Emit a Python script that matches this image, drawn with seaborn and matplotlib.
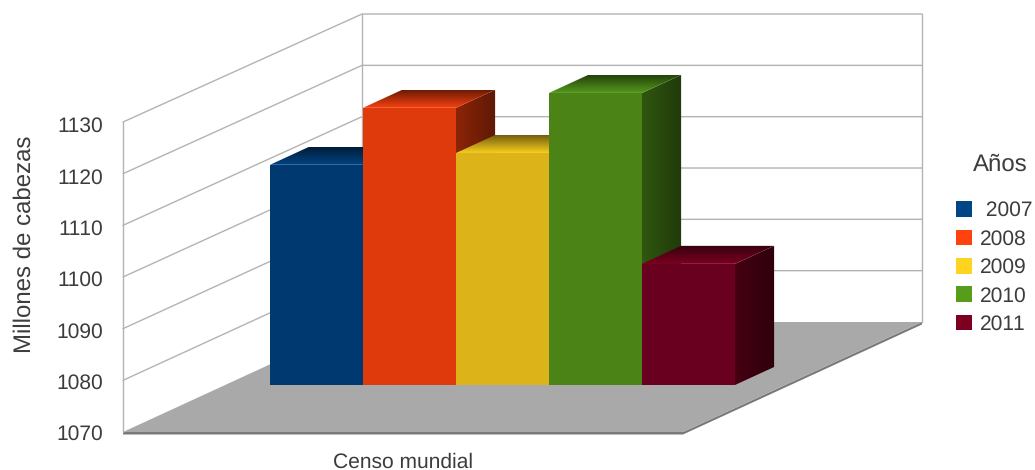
import numpy as np
import pandas as pd
import matplotlib
matplotlib.use("Agg")
import matplotlib.pyplot as plt
import seaborn as sns
from matplotlib.patches import Polygon, Rectangle
from matplotlib.colors import to_rgb

CATEGORY = "Censo mundial"
YEARS = ["2007", "2008", "2009", "2010", "2011"]
LEGEND_LABELS = [" 2007", "2008", "2009", "2010", "2011"]
VALUES = [1112.9, 1124.0, 1115.2, 1126.9, 1093.6]
FRONT_COLORS = ["#00396f", "#df3a0c", "#dcb41a", "#4b8317", "#69001f"]
LEGEND_COLORS = ["#004586", "#ff420e", "#ffd320", "#579d1c", "#7e0021"]
TICKS = [1070, 1080, 1090, 1100, 1110, 1120, 1130]

W, H = 1035, 470
PX_X = 93.0          # pixels per category
PX_Y = 5.133         # pixels per value unit
X0_PX, Y0_PX = 270.0, 385.0  # bottom-left of first bar front

sns.set_theme(style="white")
plt.rcParams["font.family"] = ["Liberation Sans", "DejaVu Sans"]
plt.rcParams["text.hinting"] = "no_hinting"
plt.rcParams["text.hinting_factor"] = 1
TXT = "#3c3c3c"
fig = plt.figure(figsize=(W / 100, H / 100), dpi=100)
ax = fig.add_axes([0, 0, 1, 1])

df = pd.DataFrame({"year": YEARS, "value": VALUES})
palette = dict(zip(YEARS, FRONT_COLORS))
sns.barplot(data=df, x="year", y="value", hue="year", palette=palette, dodge=False,
            width=1.0, legend=False, ax=ax, linewidth=0, saturation=1)

ax.set_xlim(-0.5 - X0_PX / PX_X, -0.5 + (W - X0_PX) / PX_X)
ax.set_ylim(1070 - (H - Y0_PX) / PX_Y, 1070 + Y0_PX / PX_Y)
ax.axis("off")

# depth model: full chart depth and bar depth in data units
FULL_DX = 239 / PX_X
FULL_DY = 110 / PX_Y
D0 = 47 / 110        # depth of the bar fronts
BAR_D = 18 / 110     # depth of bars
FLOOR_W = 560 / PX_X
WALL_X = -0.5 + (123 - X0_PX) / PX_X + D0 * FULL_DX
PERSPECTIVE = 0.0065  # the front of the walls is drawn slightly larger


def proj(x, d, v):
    return (x + (d - D0) * FULL_DX, v + (d - D0) * FULL_DY)


def wall_proj(x, d, v):
    return proj(x, d, 1070 + (v - 1070) * (1 + (1 - d) * PERSPECTIVE))


GRID = "#b3b3b3"
fl = [proj(WALL_X, 0, 1070), proj(WALL_X + FLOOR_W, 0, 1070),
      proj(WALL_X + FLOOR_W, 1, 1070), proj(WALL_X, 1, 1070)]
thick = 2.5 / PX_Y
# floor slab edge
ax.add_patch(Polygon([fl[0], fl[1], fl[2], (fl[2][0], fl[2][1] - thick),
                      (fl[1][0], fl[1][1] - thick), (fl[0][0], fl[0][1] - thick)],
                     closed=True, fc="#7a7a7a", ec="none", zorder=1))
ax.add_patch(Polygon(fl, closed=True, fc="#a9a9a9", ec="none", zorder=2))

for t in TICKS:
    if t == 1070:
        continue
    a = wall_proj(WALL_X, 0, t)
    b = wall_proj(WALL_X, 1, t)
    c = wall_proj(WALL_X + FLOOR_W, 1, t)
    ax.plot([a[0], b[0], c[0]], [a[1], b[1], c[1]], color=GRID, lw=1.0, zorder=3)
tp, bt = TICKS[-1], TICKS[0]
for d, x in [(0, WALL_X), (1, WALL_X), (1, WALL_X + FLOOR_W)]:
    a = wall_proj(x, d, bt)
    b = wall_proj(x, d, tp)
    ax.plot([a[0], b[0]], [a[1], b[1]], color=GRID, lw=1.0, zorder=3)


def shade(c, f):
    return tuple(min(1, v * f) for v in to_rgb(c))


def gradient_face(poly, c0, c1, vertical, zorder):
    """Fill polygon with a linear gradient between two colours."""
    xs, ys = zip(*poly)
    t = np.linspace(0, 1, 64)[:, None]
    img = np.array(c0)[None, :] * (1 - t) + np.array(c1)[None, :] * t
    img = img[:, None, :] if vertical else img[None, :, :]
    im = ax.imshow(img, extent=(min(xs), max(xs), min(ys), max(ys)), origin="lower",
                   aspect="auto", interpolation="bilinear", zorder=zorder)
    p = Polygon(poly, closed=True, transform=ax.transData, fc="none", ec="none")
    ax.add_patch(p)
    im.set_clip_path(p)


xlim, ylim = ax.get_xlim(), ax.get_ylim()
bars = [p for p in ax.patches if isinstance(p, Rectangle)][:len(VALUES)]
for i, (bar, col) in enumerate(zip(bars, LEGEND_COLORS)):
    v = VALUES[i]
    x0, x1 = i - 0.5, i + 0.5
    base = 10 + 3 * i
    bar.set_y(1070)
    bar.set_height(v - 1070)
    bar.set_zorder(base + 2)
    f0 = proj(x0, D0, v)
    f1 = proj(x1, D0, v)
    b0 = proj(x0, D0 + BAR_D, v)
    b1 = proj(x1, D0 + BAR_D, v)
    # top face: bright at front edge, dark at back
    gradient_face([f0, f1, b1, b0], shade(col, 0.97), shade(col, 0.42), True, base + 1)
    # side face: medium at front edge, dark at back
    g0 = proj(x1, D0, 1070)
    g1 = proj(x1, D0 + BAR_D, 1070)
    gradient_face([g0, g1, b1, f1], shade(col, 0.55), shade(col, 0.37), False, base)
ax.set_xlim(xlim)
ax.set_ylim(ylim)

# value axis, drawn on the front edge of the left wall
yax = fig.add_axes([123 / W, (H - 432.5) / H, 0.001, (432.5 - 124.5) / H])
yax.set_ylim(TICKS[0], TICKS[-1])
yax.set_yticks(TICKS)
yax.set_xticks([])
yax.patch.set_alpha(0)
for s in yax.spines.values():
    s.set_visible(False)
yax.tick_params(axis="y", length=0, pad=14, labelsize=15, labelcolor=TXT)
yax.set_ylabel("Millones de cabezas", fontsize=17.5, color=TXT)
yax.yaxis.set_label_coords(-(123 - 36) / (0.001 * W), (432.5 - 244) / (432.5 - 124.5))

fig.text(403.5 / W, 1 - 462 / H, CATEGORY, ha="center", va="center", fontsize=15.4, color=TXT)

# legend
fig.text(1000 / W, 1 - 165 / H, "Años", ha="center", va="center", fontsize=17.5, color=TXT)
handles = [Rectangle((0, 0), 1, 1, fc=c, ec="none") for c in LEGEND_COLORS]
leg = fig.legend(handles, LEGEND_LABELS, loc="upper left", bbox_to_anchor=(956 / W, 1 - 201 / H),
                 frameon=False, fontsize=15.2, labelcolor=TXT, handlelength=0.76, handleheight=0.76,
                 handletextpad=0.36, labelspacing=0.42, borderpad=0, borderaxespad=0)

fig.savefig("out.png", dpi=100)
